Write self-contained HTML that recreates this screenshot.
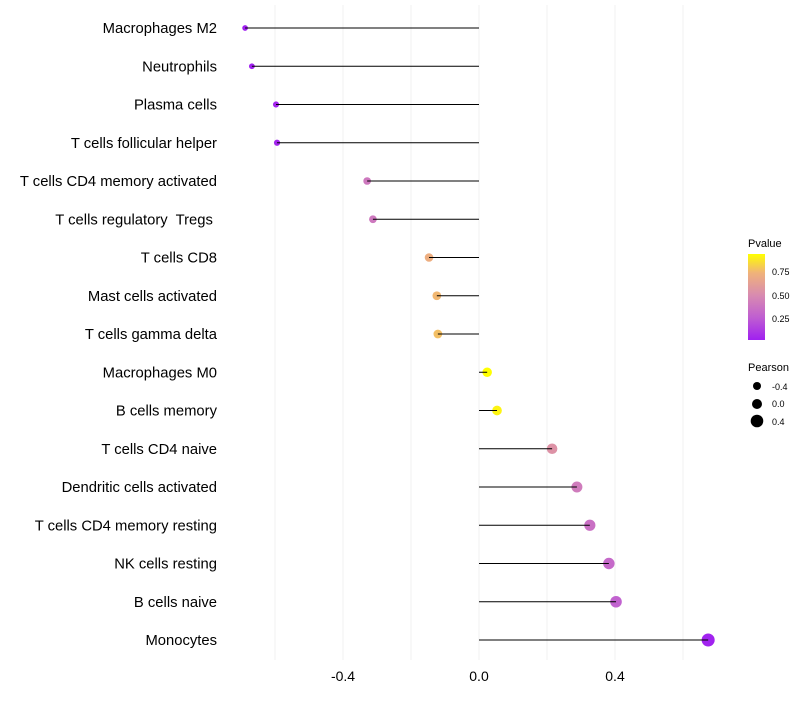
<!DOCTYPE html>
<html><head><meta charset="utf-8"><style>
body{margin:0;background:#fff;font-family:"Liberation Sans",sans-serif}
text{white-space:pre}
</style></head><body>
<svg id="chart" width="800" height="700" xmlns="http://www.w3.org/2000/svg" font-family="Liberation Sans, sans-serif">
<defs><linearGradient id="pg" x1="0" y1="1" x2="0" y2="0">
<stop offset="0" stop-color="#A020F0"/><stop offset="0.27" stop-color="#C060D0"/><stop offset="0.52" stop-color="#D88BB0"/><stop offset="0.78" stop-color="#F0B27A"/><stop offset="1" stop-color="#FFFF00"/></linearGradient></defs>
<g id="grid"></g><g id="dots"></g><g id="marks"></g><g id="labels"></g>
<g>
<text x="748" y="247" font-size="11">Pvalue</text>
<rect x="748" y="254" width="17" height="86" fill="url(#pg)"/>
<text x="772" y="275" font-size="9">0.75</text>
<text x="772" y="299" font-size="9">0.50</text>
<text x="772" y="322" font-size="9">0.25</text>
</g>
<g>
<text x="748" y="371" font-size="11">Pearson</text>
<circle cx="757" cy="386" r="4" fill="#000"/><text x="772" y="390" font-size="9">-0.4</text>
<circle cx="757" cy="404" r="5" fill="#000"/><text x="772" y="407" font-size="9">0.0</text>
<circle cx="757" cy="421" r="6.3" fill="#000"/><text x="772" y="425" font-size="9">0.4</text>
</g>
</svg>
<script>
const categories=["Macrophages M2","Neutrophils","Plasma cells","T cells follicular helper","T cells CD4 memory activated","T cells regulatory  Tregs ","T cells CD8","Mast cells activated","T cells gamma delta","Macrophages M0","B cells memory","T cells CD4 naive","Dendritic cells activated","T cells CD4 memory resting","NK cells resting","B cells naive","Monocytes"];
const pearson=[-0.688,-0.668,-0.597,-0.594,-0.329,-0.312,-0.147,-0.124,-0.121,0.024,0.053,0.215,0.288,0.326,0.382,0.403,0.674];
const pvalue=[0.01,0.02,0.04,0.04,0.4,0.4,0.72,0.76,0.78,0.96,0.92,0.55,0.42,0.36,0.32,0.28,0.03];
const xticks=[-0.4,0.0,0.4];
const gridVals=[-0.6,-0.4,-0.2,0,0.2,0.4,0.6];
const X=v=>479+340*v, Y=i=>28+i*38.25;
const ns="http://www.w3.org/2000/svg";
function mk(t,a,p){const e=document.createElementNS(ns,t);for(const k in a)e.setAttribute(k,a[k]);document.getElementById(p).appendChild(e);return e;}
const stops=[[0,[160,32,240]],[0.27,[192,96,208]],[0.52,[216,139,176]],[0.78,[240,178,122]],[1,[255,255,0]]];
function col(p){const t=(p-0.02)/0.93;for(let i=1;i<stops.length;i++){if(t<=stops[i][0]||i==stops.length-1){const a=stops[i-1],b=stops[i];let f=(t-a[0])/(b[0]-a[0]);f=Math.max(0,Math.min(1,f));return "rgb("+a[1].map((c,j)=>Math.round(c+(b[1][j]-c)*f)).join(",")+")";}}}
gridVals.forEach(v=>{const l=mk("line",{x1:X(v),x2:X(v),y1:5,y2:660,stroke:"#f2f2f2","stroke-width":1},"grid");

});
xticks.forEach(v=>{const t=mk("text",{x:X(v),y:681,"font-size":14,"text-anchor":"middle",fill:"#000"},"labels");t.textContent=v.toFixed(1);

});
categories.forEach((c,i)=>{
const t=mk("text",{x:217,y:Y(i)+5,"font-size":14.8,"text-anchor":"end",fill:"#000"},"labels");t.textContent=c;


const l=mk("line",{x1:X(0),x2:X(pearson[i]),y1:Y(i),y2:Y(i),stroke:"#000","stroke-width":1},"marks");


const r=Math.max(1.5,4.7+2.7*pearson[i]);
const d=mk("circle",{cx:X(pearson[i]),cy:Y(i),r:r,fill:col(pvalue[i])},"dots");


});
</script>
</body></html>
